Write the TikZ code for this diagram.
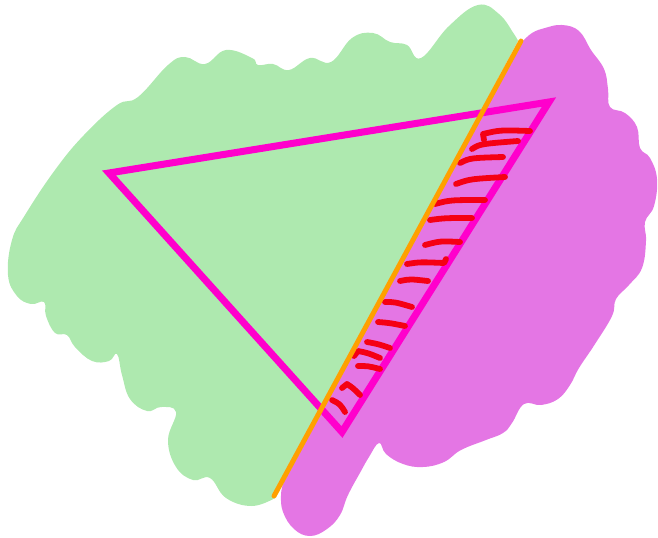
\documentclass[tikz,border=0pt]{standalone}
\usepackage{tikz}
\usepackage{xcolor}
\definecolor{blobgreen}{RGB}{174,233,175}
\definecolor{blobpink}{RGB}{228,118,228}
\definecolor{trimagenta}{RGB}{255,0,204}
\definecolor{cutorange}{RGB}{255,160,0}
\definecolor{hatchred}{RGB}{245,0,20}

\begin{document}
\begin{tikzpicture}[
    x=0.02cm, y=-0.02cm,
    greenblob/.style={fill=blobgreen, draw=none},
    pinkblob/.style={fill=blobpink, draw=none},
    cutline/.style={cutorange, line width=2.8pt, line cap=round},
    tri/.style={trimagenta, line width=4pt, line join=miter},
    hatch/.style={hatchred, line width=3.3pt, line cap=round, line join=round}
]
\useasboundingbox (0,0) rectangle (658,537);

% Two blobs
\fill[greenblob] plot[smooth, tension=0.7] coordinates {
    (275,498) (252,506) (226,498) (210,478) (193,480) (176,467) (168,440)
    (176,412) (161,407) (147,411) (130,399) (122,375) (117,354) (109,361)
    (92,361) (75,347) (67,335) (55,333) (46,316) (44,302) (31,304) (17,296)
    (8,275) (12,240) (25,215) (55,170) (84,135) (117,105) (138,97) (168,65)
    (185,57) (205,64) (226,50) (252,58) (258,65) (273,64) (289,70) (310,58)
    (331,62) (352,38) (373,33) (390,42) (407,45) (421,58) (449,26) (478,5)
    (499,14) (514,34) (518,41)} -- cycle;
\fill[pinkblob] plot[smooth, tension=0.7] coordinates {
    (522,42) (532,33) (545,28) (562,25) (579,31) (591,50) (604,69) (608,89)
    (610,107) (625,113) (637,127) (640,148) (650,158) (657,179) (654,206)
    (645,222) (646,241) (642,268) (629,285) (616,299) (612,316) (595,344)
    (579,368) (570,385) (558,399) (541,405) (524,404) (512,423) (503,433)
    (486,440) (461,450) (444,462) (423,467) (403,464) (386,454) (379,443)
    (369,457) (361,471) (348,495) (340,515) (327,529) (310,536) (294,529)
    (283,512) (281,495) (283,484)} -- cycle;

% Cut line
\coordinate (cutlow) at (274,496);
\coordinate (cuthigh) at (521,41);

% Triangle
\coordinate (A) at (109,173);
\coordinate (B) at (549,102);
\coordinate (C) at (342,432);
\draw[tri] (A) -- (B) -- (C) -- cycle;

% Hatching
\draw[hatch] (484,140) -- (483,134) .. controls (500,130) .. (530,131);
\draw[hatch] (472,149) .. controls (480,144) .. (518,141);
\draw[hatch] (460,163) .. controls (470,158) .. (503,157);
\draw[hatch] (456,184) .. controls (470,179) .. (505,177);
\draw[hatch] (435,204) .. controls (450,200) .. (485,200);
\draw[hatch] (430,220) .. controls (445,218) .. (472,218);
\draw[hatch] (425,245) .. controls (440,241) .. (460,242);
\draw[hatch] (407,264) .. controls (420,262) .. (444,263) -- (446,259);
\draw[hatch] (400,281) .. controls (410,279) .. (428,281);
\draw[hatch] (385,302) .. controls (395,302) .. (412,307);
\draw[hatch] (378,322) .. controls (390,323) .. (405,326);
\draw[hatch] (367,342) .. controls (378,344) .. (390,348);
\draw[hatch] (354,356) -- (358,351) .. controls (368,353) .. (380,358);
\draw[hatch] (358,366) .. controls (368,366) .. (380,369);
\draw[hatch] (342,388) -- (347,384) .. controls (353,388) .. (360,395);
\draw[hatch] (332,400) .. controls (340,404) .. (345,412);

\draw[cutline] (cutlow) -- (cuthigh);

\end{tikzpicture}
\end{document}
